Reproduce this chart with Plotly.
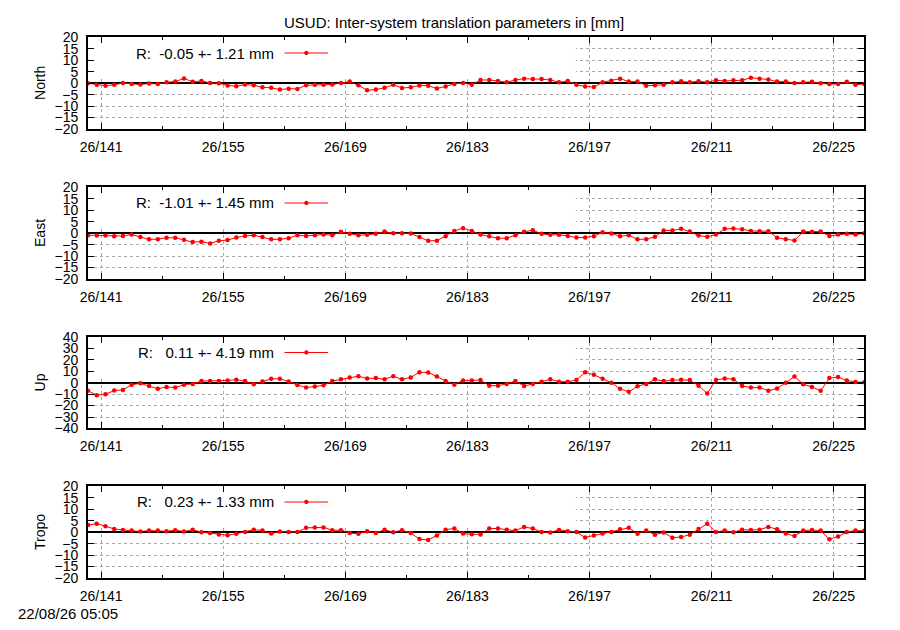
import numpy as np
import plotly.graph_objects as go

# daily solutions, plotted at mid-day (day of year 2026)
epochs = np.arange(139.5, 229.0, 1.0)

north = [0.0, -0.7, -1.1, -0.7, 0.1, -0.3, -0.6, -0.1, -0.4, 0.4,
         0.7, 2.1, 0.6, 1.0, 0.1, 0.0, -1.0, -1.3, -0.6, -0.9,
         -1.8, -2.0, -2.8, -2.4, -2.5, -0.9, -0.7, -0.7, -0.6, 0.1,
         0.7, -0.9, -3.1, -2.8, -2.0, -0.7, -2.1, -1.8, -1.0, -1.1,
         -2.3, -1.4, -0.3, 0.1, -0.7, 1.4, 1.4, 1.0, 0.4, 1.4,
         2.0, 1.8, 1.8, 1.4, 0.4, 1.0, -0.7, -1.4, -1.7, 0.4,
         1.1, 2.0, 0.7, 0.7, -1.1, -0.9, -0.7, 0.4, 0.8, 0.4,
         0.9, 0.4, 1.3, 1.0, 1.3, 1.3, 2.4, 2.0, 1.6, 0.7,
         0.7, 0.1, 0.4, 0.6, 0.0, -0.4, -0.3, 0.6, -0.7, -0.3]

east = [-0.9, -1.0, -1.0, -1.3, -1.2, -0.6, -1.7, -2.7, -2.6, -2.0,
        -2.0, -2.9, -3.9, -3.7, -4.5, -3.3, -3.0, -1.9, -1.2, -0.9,
        -1.7, -2.7, -2.6, -2.2, -0.9, -1.2, -0.9, -0.6, -0.9, 0.6,
        -0.3, -0.9, -0.7, -0.3, 0.7, 0.0, 0.0, -0.1, -1.7, -3.3,
        -3.3, -1.3, 1.0, 2.2, 1.0, -0.6, -1.3, -2.2, -2.2, -0.9,
        0.6, 1.3, -0.3, -0.7, -0.7, -1.2, -1.9, -1.9, -1.3, 0.4,
        -0.1, -1.3, -0.9, -2.7, -2.6, -1.6, 1.2, 1.2, 1.9, 0.7,
        -1.0, -1.6, -0.6, 1.9, 2.0, 1.7, 1.0, 0.9, 0.9, -2.0,
        -2.7, -3.2, 0.7, 0.6, 0.7, -1.2, -0.6, -0.3, -0.6, 0.0]

up = [-7.1, -10.9, -10.0, -6.9, -6.3, -1.7, -0.6, -2.9, -5.4, -3.7,
      -4.3, -1.7, -1.1, 1.4, 1.4, 1.4, 2.0, 2.6, 1.4, -1.4,
      1.1, 3.4, 3.4, 1.1, -2.0, -4.3, -3.4, -2.3, 1.4, 2.9,
      4.6, 5.7, 3.7, 4.0, 2.9, 5.7, 2.9, 4.6, 9.1, 8.9,
      5.4, 1.4, -1.7, 2.0, 2.0, 2.3, -2.6, -2.6, -1.1, 1.4,
      -2.9, -1.1, 0.9, 2.9, 0.9, 0.9, 2.3, 9.1, 6.9, 3.4,
      0.0, -5.4, -8.0, -3.1, -1.1, 2.9, 1.4, 2.3, 2.6, 2.3,
      -2.6, -9.4, 2.3, 3.7, 3.1, -2.9, -4.3, -4.3, -7.1, -5.1,
      0.0, 5.4, -1.4, -3.7, -7.1, 4.0, 4.9, 2.0, 0.6, 0.3]

tropo = [3.1, 3.7, 2.6, 1.4, 1.0, 0.7, 0.3, 0.7, 0.7, 0.4,
         0.9, 0.3, 1.1, 0.0, -0.4, -1.0, -1.3, -0.7, 0.1, 1.1,
         0.7, -0.6, 0.3, 0.1, 0.1, 1.9, 2.1, 2.1, 0.9, 0.9,
         -0.4, -0.7, 0.4, -0.4, 1.1, 0.0, 0.9, -0.4, -3.0, -3.4,
         -1.4, 1.1, 1.6, -0.6, -0.9, -1.0, 1.6, 1.6, 1.1, 0.7,
         2.3, 1.6, 0.1, -0.1, 1.0, 0.4, 0.1, -2.3, -1.4, -0.6,
         0.1, 1.3, 1.9, -0.7, 0.7, -1.1, -0.1, -2.4, -2.1, -1.1,
         1.4, 3.7, 0.1, 0.7, 0.0, 1.1, 1.0, 1.1, 2.3, 1.3,
         -0.6, -1.7, 0.7, 1.0, 0.7, -3.1, -1.9, 0.1, 0.7, 0.6]

panel_names = ["North", "East", "Up", "Tropo"]
panel_series = [north, east, up, tropo]
panel_stats = ["R:\u00a0\u00a0-0.05 +- 1.21 mm", "R:\u00a0\u00a0-1.01 +- 1.45 mm",
               "R:\u00a0\u00a0\u00a00.11 +- 4.19 mm", "R:\u00a0\u00a0\u00a00.23 +- 1.33 mm"]
panel_limits = [20, 20, 40, 20]
panel_steps = [5, 5, 10, 5]

# the page keeps an 8px body margin, so the plot gets 884x614
PAD = 8
W, H = 900 - 2 * PAD, 630 - 2 * PAD


def fx(px):
    return (px - PAD) / W


def fy(py):
    return 1 - (py - PAD) / H


left_px, right_px = 80.7, 864.0
tops_px = [30, 184, 337.5, 491]
panel_h = 94
font = "Liberation Sans"
x_range = [139.5, 228.5]
px_per_day = (right_px - left_px) / (x_range[1] - x_range[0])

fig = go.Figure()
annotations = []
shapes = []

for k, (name, vals, stat, lim, step) in enumerate(
        zip(panel_names, panel_series, panel_stats, panel_limits, panel_steps)):
    n = "" if k == 0 else str(k + 1)
    top = tops_px[k]
    bottom = top + panel_h

    fig.add_trace(go.Scatter(
        x=epochs, y=vals, mode="lines+markers",
        line=dict(color="#ff0000", width=1),
        marker=dict(color="#ff0000", size=4.5),
        xaxis="x" + n, yaxis="y" + n,
        showlegend=False, hoverinfo="x+y"
    ))

    fig.layout["xaxis" + n] = dict(
        domain=[fx(left_px), fx(right_px)], anchor="y" + n,
        range=x_range, tickmode="linear", tick0=141, dtick=14,
        tickprefix="26/", ticks="inside", ticklen=6, tickcolor="black",
        minor=dict(tick0=141, dtick=7, ticks="inside", ticklen=3, tickcolor="black"),
        mirror="allticks", showline=True, linecolor="black", linewidth=2,
        showgrid=True, gridcolor="#a8a8a8", griddash="dot", gridwidth=1,
        zeroline=False, tickfont=dict(family=font, size=14, color="black"),
        ticklabelstandoff=4
    )
    fig.layout["yaxis" + n] = dict(
        domain=[fy(bottom), fy(top)], anchor="x" + n,
        range=[-lim, lim], tickmode="linear", tick0=0, dtick=step,
        ticks="inside", ticklen=6, tickcolor="black",
        mirror="allticks", showline=True, linecolor="black", linewidth=2,
        showgrid=True, gridcolor="#a8a8a8", griddash="dot", gridwidth=1,
        zeroline=True, zerolinecolor="black", zerolinewidth=2,
        tickfont=dict(family=font, size=14, color="black"),
        ticklabelstandoff=5
    )

    # opaque key box (hides grid in upper-left area)
    shapes.append(dict(
        type="rect", xref="x" + n, yref="y" + n,
        x0=x_range[0], x1=x_range[0] + (573 - left_px) / px_per_day,
        y0=lim - 2 * lim * 41 / panel_h, y1=lim,
        fillcolor="white", line=dict(width=0), layer="between"
    ))
    # key sample
    dx = right_px - left_px
    ky = 1 - 16 / panel_h
    kx0 = (279 - left_px) / dx
    kx1 = (323 - left_px) / dx
    kxm = (kx0 + kx1) / 2
    r = 2.2
    shapes.append(dict(
        type="line", xref="x%s domain" % n, yref="y%s domain" % n,
        x0=kx0, x1=kx1, y0=ky, y1=ky, line=dict(color="#ff0000", width=1)
    ))
    shapes.append(dict(
        type="circle", xref="x%s domain" % n, yref="y%s domain" % n,
        x0=kxm - r / dx, x1=kxm + r / dx,
        y0=ky - r / panel_h, y1=ky + r / panel_h,
        fillcolor="#ff0000", line=dict(width=0)
    ))
    annotations.append(dict(
        text=stat, xref="paper", yref="paper",
        x=fx(270), y=fy(top + 16), xanchor="right", yanchor="middle",
        showarrow=False, font=dict(family=font, size=15, color="black")
    ))
    annotations.append(dict(
        text=name, xref="paper", yref="paper", textangle=-90,
        x=fx(32), y=fy(top + panel_h / 2), xanchor="center", yanchor="middle",
        showarrow=False, font=dict(family=font, size=14, color="black")
    ))

annotations.append(dict(
    text="USUD: Inter-system translation parameters in [mm]",
    xref="paper", yref="paper", x=fx(450), y=fy(15),
    xanchor="center", yanchor="middle", showarrow=False,
    font=dict(family=font, size=15, color="black")
))
annotations.append(dict(
    text="22/08/26 05:05", xref="paper", yref="paper",
    x=fx(8), y=fy(621), xanchor="left", yanchor="middle", showarrow=False,
    font=dict(family=font, size=15, color="black")
))

fig.update_layout(
    width=W, height=H,
    margin=dict(l=0, r=0, t=0, b=0),
    plot_bgcolor="white", paper_bgcolor="white",
    showlegend=False,
    annotations=annotations, shapes=shapes,
    font=dict(family=font, color="black")
)

fig.write_html("out.html", config={"displayModeBar": False})
